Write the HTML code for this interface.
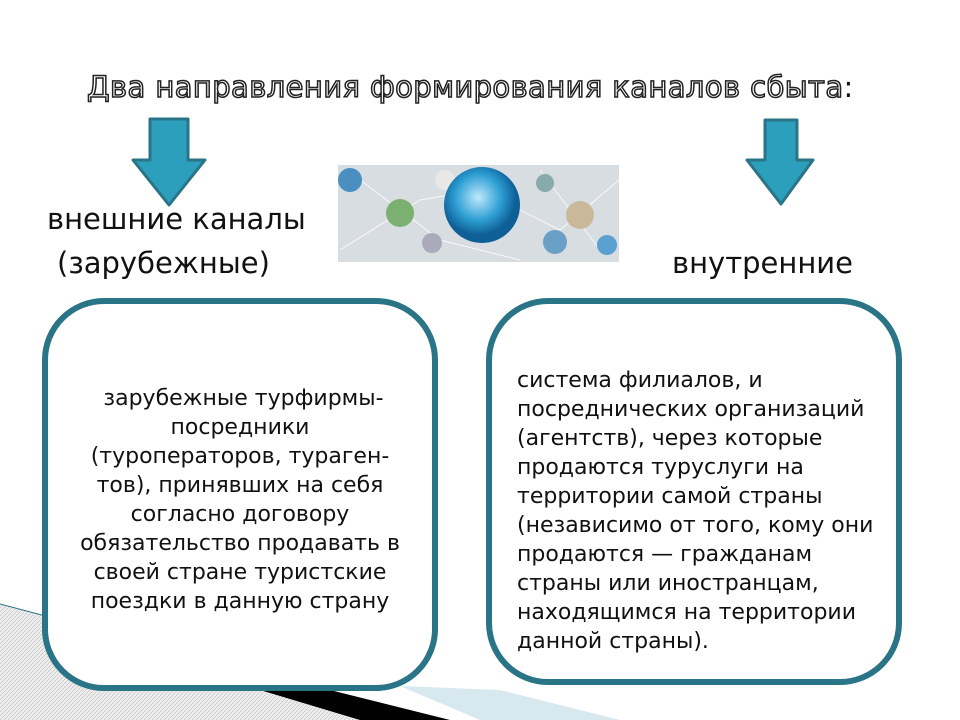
<!DOCTYPE html>
<html><head><meta charset="utf-8"><style>
body{margin:0;width:960px;height:720px;background:#fff;position:relative;overflow:hidden;font-family:"DejaVu Sans","Liberation Sans",sans-serif;}
.t{position:absolute;white-space:nowrap;color:#111}
.box{position:absolute;border:6px solid #2a7488;border-radius:62px;background:#fff;box-sizing:border-box}
.bt{position:absolute;font-size:22px;line-height:29px;color:#111;white-space:nowrap}
</style></head><body>
<svg width="960" height="720" style="position:absolute;left:0;top:0">
<defs><pattern id="p" width="4" height="4" patternUnits="userSpaceOnUse"><rect width="4" height="4" fill="#eee"/><path d="M0 4L4 0" stroke="#bbb" stroke-width="0.6"/></pattern>
<radialGradient id="g" cx="0.45" cy="0.4"><stop offset="0" stop-color="#bfe9fb"/><stop offset="0.6" stop-color="#2e9fd4"/><stop offset="1" stop-color="#0d5f96"/></radialGradient></defs>
<polygon points="0,604 440,720 0,720" fill="url(#p)"/>
<line x1="0" y1="604" x2="440" y2="720" stroke="#2a7488" stroke-width="1"/>
<polygon points="260,690 330,690 450,720 360,720" fill="#000"/>
<polygon points="400,686 500,690 620,720 480,720" fill="#d7e8ef"/>
<polygon points="150,119 188,119 188,160 205,160 169,205 133,160 150,160" fill="#2b9fbc" stroke="#2a7488" stroke-width="3" stroke-linejoin="round"/>
<polygon points="765,120 797,120 797,160 813,160 781,204 747,160 765,160" fill="#2b9fbc" stroke="#2a7488" stroke-width="3" stroke-linejoin="round"/>
<rect x="338" y="165" width="281" height="97" fill="#d8dde2"/>
<g stroke="#fff" stroke-width="1" fill="none" opacity="0.8"><path d="M340 250L420 200L480 190L560 230L619 180M360 180L440 240L520 260M540 170L600 250"/></g>
<circle cx="350" cy="180" r="12" fill="#4a8fc0"/><circle cx="400" cy="213" r="14" fill="#7bb070"/>
<circle cx="445" cy="180" r="10" fill="#e8e8e8"/><circle cx="545" cy="183" r="9" fill="#8aa"/>
<circle cx="580" cy="215" r="14" fill="#c9b89a"/><circle cx="555" cy="242" r="12" fill="#6a9fc8"/>
<circle cx="432" cy="243" r="10" fill="#aab"/><circle cx="607" cy="245" r="10" fill="#5aa0d0"/>
<circle cx="482" cy="205" r="38" fill="url(#g)"/>
</svg>
<div class="t" style="left:87px;top:70px;font-size:29px;color:#fff;-webkit-text-stroke:1.5px #222;letter-spacing:0.4px">Два направления формирования каналов сбыта<span style="color:#111;-webkit-text-stroke:0">:</span></div>
<div class="t" style="left:47px;top:202px;font-size:29px">внешние каналы</div>
<div class="t" style="left:57px;top:246px;font-size:29px">(зарубежные)</div>
<div class="t" style="left:672px;top:246px;font-size:29px">внутренние</div>
<div class="box" style="left:42px;top:298px;width:396px;height:393px"></div>
<div class="box" style="left:486px;top:298px;width:416px;height:387px"></div>
<div class="bt" style="left:40px;top:384px;width:400px;text-align:center">&nbsp;зарубежные турфирмы-<br>посредники<br>(туроператоров, тураген-<br>тов), принявших на себя<br>согласно договору<br>обязательство продавать в<br>своей стране туристские<br>поездки в данную страну</div>
<div class="bt" style="left:517px;top:366px">система филиалов, и<br>посреднических организаций<br>(агентств), через которые<br>продаются туруслуги на<br>территории самой страны<br>(независимо от того, кому они<br>продаются — гражданам<br>страны или иностранцам,<br>находящимся на территории<br>данной страны).</div>
</body></html>
